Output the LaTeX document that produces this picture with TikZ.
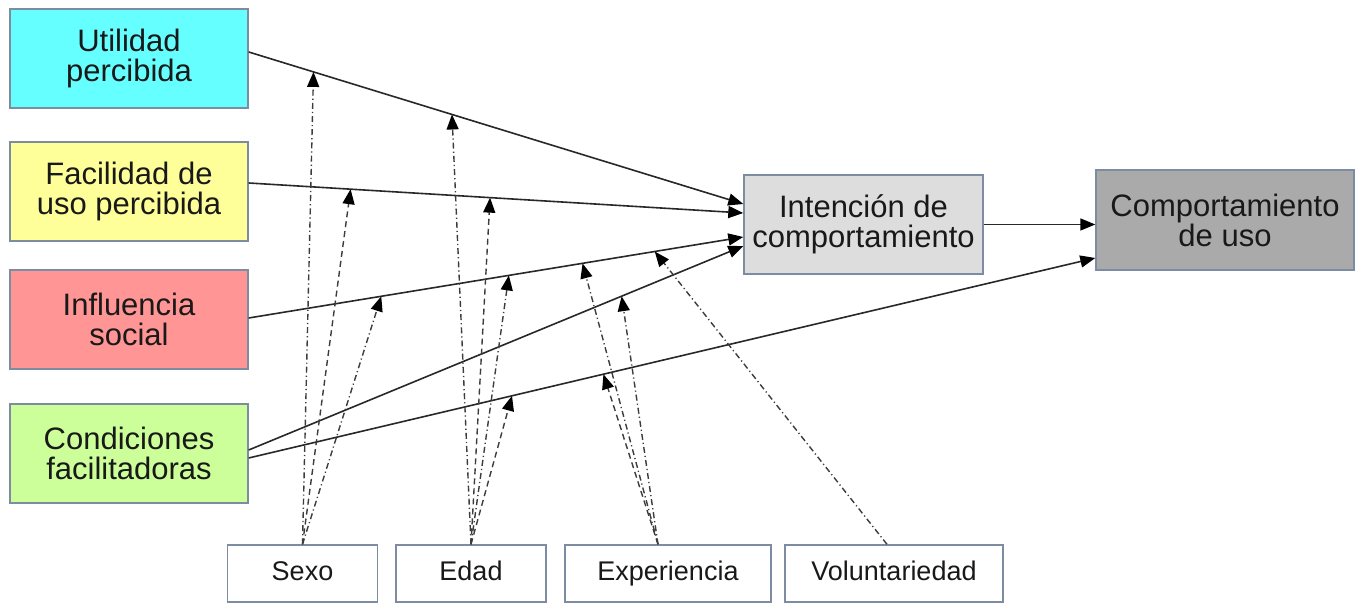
\documentclass[tikz,border=0pt]{standalone}
\usepackage{fontspec}
\setmainfont{Liberation Sans}
\usetikzlibrary{arrows.meta}
\definecolor{cUtil}{RGB}{102,255,255}
\definecolor{cFac}{RGB}{255,255,153}
\definecolor{cInf}{RGB}{255,149,149}
\definecolor{cCond}{RGB}{204,255,153}
\definecolor{cInt}{RGB}{221,221,221}
\definecolor{cComp}{RGB}{170,170,170}
\definecolor{bordc}{RGB}{125,140,160}
\definecolor{txtc}{RGB}{25,25,25}
\definecolor{linec}{RGB}{40,40,40}
\definecolor{dashc}{RGB}{60,60,60}
\begin{document}
\begin{tikzpicture}[x=0.5pt,y=-0.5pt,
  box/.style={draw=bordc, line width=0.7pt, text=txtc, align=center, inner sep=0pt,
    font=\fontsize{15.5}{15}\selectfont, minimum width=119pt, minimum height=49.5pt},
  smallbox/.style={draw=bordc, line width=0.7pt, fill=white, text=txtc, inner sep=0pt,
    font=\fontsize{13.5}{15}\selectfont, minimum width=75pt, minimum height=28.5pt,
    text height=9.7pt, text depth=2.8pt},
  tipstyle/.style={-{Triangle[length=7.5pt,width=6pt,color=black]}},
  rel/.style={draw=linec, line width=0.8pt, tipstyle},
  moddot/.style={draw=dashc, line width=0.7pt, dash pattern=on 3pt off 1.5pt on 0.6pt off 1.5pt, tipstyle},
  moddash/.style={draw=dashc, line width=0.7pt, dash pattern=on 3pt off 2pt, tipstyle}
]
\useasboundingbox (0,0) rectangle (1356,603);

% main constructs
\node[box, fill=cUtil] (util) at (129,58.5) {Utilidad\\percibida};
\node[box, fill=cFac] (fac) at (129,191.5) {Facilidad de\\uso percibida};
\node[box, fill=cInf] (inf) at (129,319.5) {Influencia\\social};
\node[box, fill=cCond] (cond) at (129,453.5) {Condiciones\\facilitadoras};
\node[box, fill=cInt, minimum width=119.5pt] (intent) at (863.5,224.5) {Intención de\\comportamiento};
\node[box, fill=cComp, minimum width=129pt, minimum height=50pt] (comp) at (1225,220) {Comportamiento\\de uso};

% moderators
\node[smallbox] (sexo) at (302.5,573.5) {Sexo};
\node[smallbox] (edad) at (471,573.5) {Edad};
\node[smallbox, minimum width=103pt] (exp) at (668,573.5) {Experiencia};
\node[smallbox, minimum width=109pt] (vol) at (894,573.5) {Voluntariedad};

% solid relations with named points along them
\draw[rel] ([yshift=3.25pt]util.east) -- ([yshift=10.25pt]intent.west)
  coordinate[pos=0.131] (u1) coordinate[pos=0.411] (u2);
\draw[rel] ([yshift=4.25pt]fac.east) -- ([yshift=5.75pt]intent.west)
  coordinate[pos=0.206] (f1) coordinate[pos=0.488] (f2);
\draw[rel] ([yshift=0.75pt]inf.east) -- ([yshift=-6.25pt]intent.west)
  coordinate[pos=0.268] (i1) coordinate[pos=0.526] (i2)
  coordinate[pos=0.675] (i3) coordinate[pos=0.821] (i4);
\draw[rel] ([yshift=1.75pt]cond.east) -- ([yshift=-10.75pt]intent.west)
  coordinate[pos=0.754] (c1);
\draw[rel] ([yshift=-2.25pt]cond.east) -- ([yshift=-19pt]comp.west)
  coordinate[pos=0.311] (c2) coordinate[pos=0.419] (c3);
\draw[rel] (intent.east) -- (intent.east -| comp.west);

% moderating effects
\coordinate (sx) at (sexo.north);
\coordinate (ed) at (edad.north);
\coordinate (ex) at ([xshift=-5pt]exp.north);
\coordinate (vo) at ([xshift=-3.5pt]vol.north);

\draw[moddot] (sx) -- (u1);
\draw[moddash] (sx) -- (f1);
\draw[moddot] (sx) -- (i1);

\draw[moddot] (ed) -- (u2);
\draw[moddash] (ed) -- (f2);
\draw[moddot] (ed) -- (i2);
\draw[moddash] (ed) -- (c2);

\draw[moddot] (ex) -- (i3);
\draw[moddot] (ex) -- (c1);
\draw[moddash] (ex) -- (c3);

\draw[moddot] (vo) -- (i4);
\end{tikzpicture}
\end{document}
